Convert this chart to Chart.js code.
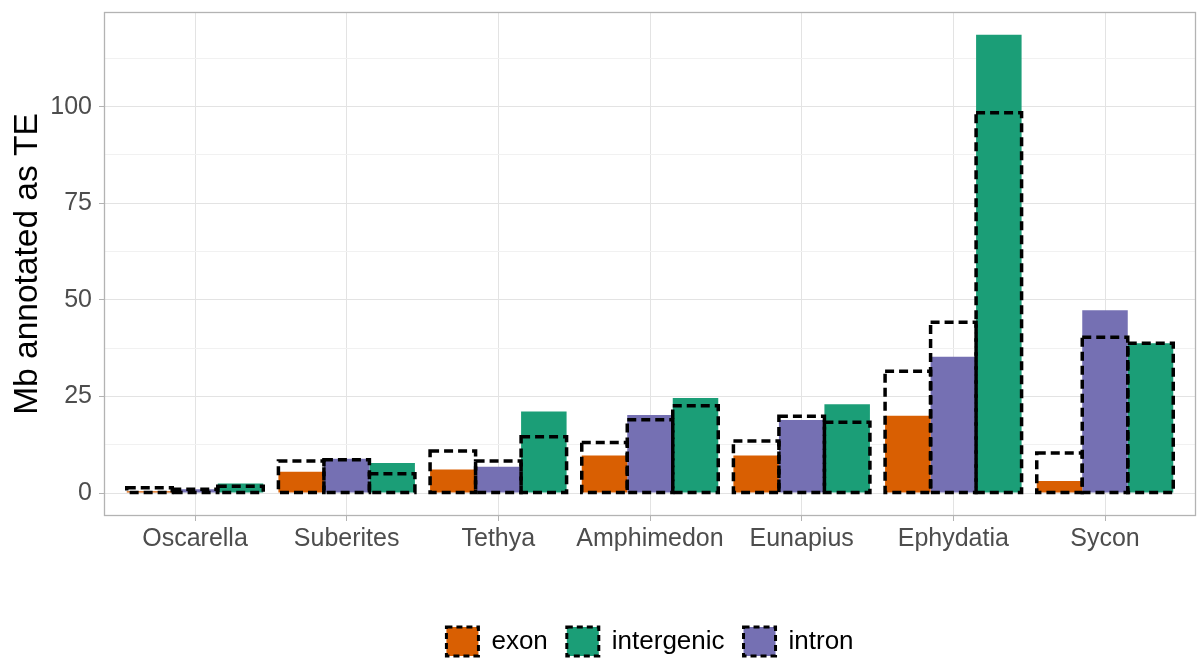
<!DOCTYPE html>
<html>
<head>
<meta charset="utf-8">
<script src="https://cdn.jsdelivr.net/npm/chart.js@4"></script>
<style>
  html, body { margin: 0; padding: 0; background: #fff; }
</style>
</head>
<body>
<canvas id="grafico" width="1197" height="658"></canvas>
<script>
// Datos (Mb anotadas como TE)
const especies = ['Oscarella', 'Suberites', 'Tethya', 'Amphimedon', 'Eunapius', 'Ephydatia', 'Sycon'];

const exonObs = [0.5, 5.5, 6.1, 9.7, 9.7, 20.0, 3.1];
const intronObs = [1.0, 8.9, 6.8, 20.2, 18.9, 35.3, 47.3];
const intergenicObs = [2.5, 7.8, 21.1, 24.6, 23.0, 118.6, 38.8];

// contornos discontinuos
const exonEsp = [1.4, 8.3, 10.9, 13.1, 13.5, 31.5, 10.4];
const intronEsp = [1.0, 8.6, 8.3, 19.0, 19.9, 44.2, 40.3];
const intergenicEsp = [1.8, 5.0, 14.6, 22.6, 18.3, 98.4, 38.8];

const etiquetasY = [0, 25, 50, 75, 100];
const lineasY = [0, 12.5, 25, 37.5, 50, 62.5, 75, 87.5, 100, 112.5];
const leyenda = ['exon', 'intergenic', 'intron'];

const colores = { exon: '#D95F02', intron: '#7570B3', intergenic: '#1B9E77' };
const fuente = "'Liberation Sans', Arial, sans-serif";

const puntos = valores => valores.map((v, i) => ({ x: i, y: v }));

function serie(nombre, valores, esperado) {
    return {
        label: nombre,
        data: puntos(valores),
        stack: nombre,
        esperado: esperado,
        order: esperado ? 0 : 1,
        backgroundColor: esperado ? 'rgba(0,0,0,0)' : colores[nombre],
        borderWidth: 0
    };
}

// quitar el relleno que Chart.js reserva para las etiquetas de los extremos
function sinRelleno(s) {
    s.paddingTop = 0;
    s.paddingBottom = 0;
    s.paddingLeft = 0;
    s.paddingRight = 0;
}

// Borde gris del panel
const bordePanel = {
    id: 'bordePanel',
    beforeDatasetsDraw(chart) {
        const { ctx, chartArea: a } = chart;
        ctx.save();
        ctx.strokeStyle = '#B3B3B3';
        ctx.lineWidth = 1.3;
        ctx.strokeRect(a.left + 0.5, a.top + 0.5, a.right - a.left - 1, a.bottom - a.top - 1);
        ctx.restore();
    }
};

// Las barras de Chart.js no admiten borde discontinuo: se traza encima
const contornoDiscontinuo = {
    id: 'contornoDiscontinuo',
    afterDatasetsDraw(chart) {
        const ctx = chart.ctx;
        ctx.save();
        ctx.strokeStyle = '#000';
        ctx.lineWidth = 3.5;
        ctx.setLineDash([9, 5]);
        chart.data.datasets.forEach((ds, i) => {
            if (!ds.esperado) return;
            chart.getDatasetMeta(i).data.forEach(barra => {
                const { x, y, base, width } = barra.getProps(['x', 'y', 'base', 'width'], true);
                ctx.strokeRect(x - width / 2, y, width, base - y);
            });
        });
        ctx.restore();
    }
};

const esPrincipal = c => c.tick && etiquetasY.includes(c.tick.value);

new Chart(document.getElementById('grafico'), {
    type: 'bar',
    data: {
        datasets: [
            serie('exon', exonObs, false),
            serie('intron', intronObs, false),
            serie('intergenic', intergenicObs, false),
            serie('exon', exonEsp, true),
            serie('intron', intronEsp, true),
            serie('intergenic', intergenicEsp, true)
        ]
    },
    options: {
        responsive: false,
        animation: false,
        devicePixelRatio: 1,
        categoryPercentage: 0.9,
        barPercentage: 1,
        layout: { padding: { top: 12, right: 1, left: 0, bottom: -8 } },
        scales: {
            x: {
                type: 'linear',
                min: -0.6,
                max: 6.6,
                offset: false,
                afterBuildTicks: s => { s.ticks = especies.map((_, i) => ({ value: i })); },
                afterFit: s => { s.height = 92; sinRelleno(s); },
                ticks: {
                    callback: v => especies[v],
                    color: '#4D4D4D',
                    font: { size: 25, family: fuente },
                    padding: 3,
                    maxRotation: 0,
                    autoSkip: false
                },
                grid: { offset: false, color: '#E3E3E3', tickLength: 5, tickColor: '#B3B3B3' },
                border: { display: false }
            },
            y: {
                min: -5.93,
                max: 124.5,
                stacked: false,
                afterBuildTicks: s => { s.ticks = lineasY.map(v => ({ value: v })); },
                afterFit: s => { s.width = 104; sinRelleno(s); },
                ticks: {
                    callback: v => etiquetasY.includes(v) ? v : '',
                    color: '#4D4D4D',
                    font: { size: 25, family: fuente },
                    padding: 7,
                    autoSkip: false
                },
                grid: {
                    color: c => esPrincipal(c) ? '#E3E3E3' : '#F1F1F1',
                    tickLength: 5,
                    tickColor: c => esPrincipal(c) ? '#B3B3B3' : 'rgba(0,0,0,0)'
                },
                border: { display: false },
                title: {
                    display: true,
                    text: 'Mb annotated as TE',
                    color: '#000',
                    font: { size: 33.5, family: fuente },
                    padding: { top: 8, bottom: 0 }
                }
            }
        },
        plugins: {
            tooltip: { enabled: false },
            legend: {
                position: 'bottom',
                fullSize: false,
                onClick: null,
                labels: {
                    boxWidth: 32,
                    boxHeight: 29,
                    padding: 19,
                    color: '#000',
                    font: { size: 26, family: fuente },
                    generateLabels: () => leyenda.map(t => ({
                        text: t,
                        fillStyle: colores[t],
                        strokeStyle: '#000',
                        lineWidth: 3,
                        lineDash: [6, 4],
                        hidden: false
                    }))
                }
            }
        }
    },
    plugins: [bordePanel, contornoDiscontinuo]
});
</script>
</body>
</html>
